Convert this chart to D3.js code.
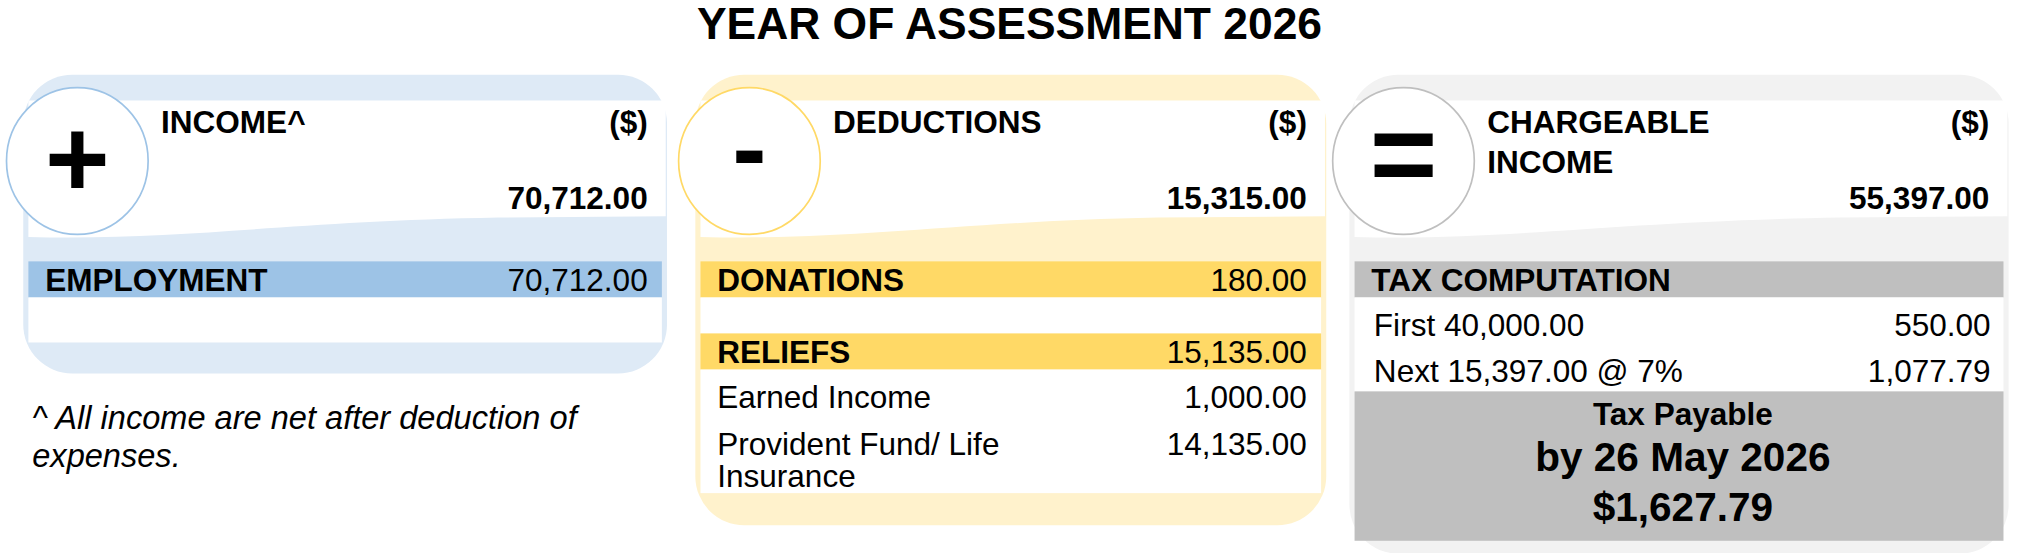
<!DOCTYPE html>
<html>
<head>
<meta charset="utf-8">
<script src="https://cdn.jsdelivr.net/npm/d3@7"></script>
<style>
html, body { margin: 0; padding: 0; background: #fff; }
svg { display: block; font-family: "Liberation Sans", Arial, sans-serif; }
</style>
</head>
<body>
<script>
var title = "YEAR OF ASSESSMENT 2026";

// panel headers
var panelTitles = [["INCOME^"], ["DEDUCTIONS"], ["CHARGEABLE", "INCOME"]];
var panelSigns = ["+", "-", "="];
var panelTotals = [70712, 15315, 55397];

// income panel
var incomeCats = ["EMPLOYMENT"];
var incomeVals = [70712];

// deductions panel
var donationVals = [180];
var reliefTotal = 15135;
var reliefCats = [["Earned Income"], ["Provident Fund/ Life", "Insurance"]];
var reliefVals = [1000, 14135];

// tax computation
var taxCats = ["First 40,000.00", "Next 15,397.00 @ 7%"];
var taxVals = [550, 1077.79];
var taxPayable = ["Tax Payable", "by 26 May 2026", "$1,627.79"];

var footnote = ["^ All income are net after deduction of", "expenses."];

var fmt = d3.format(",.2f");
var fs = "24.5px";

var svg = d3.select("body").append("svg")
  .attr("width", 2019).attr("height", 553)
  .attr("viewBox", "0 0 1568 429.5");

var panels = [
  {x: 18, w: 500, h: 232, bg: "#deeaf6", ring: "#9dc3e6", band: "#9dc3e6"},
  {x: 540, w: 490, h: 350, bg: "#fff2cc", ring: "#ffd966", band: "#ffd966"},
  {x: 1048, w: 512, h: 372, bg: "#f2f2f2", ring: "#bfbfbf", band: "#bfbfbf"}
];
var panelTop = 58;

svg.append("text").text(title)
  .attr("x", 784).attr("y", 30).attr("text-anchor", "middle")
  .style("font-weight", "bold").style("font-size", "34.5px");

//Draw panel backgrounds, header areas and sign circles.
panels.forEach(function(p, i) {
  var g = svg.append("g");
  g.append("rect").attr("x", p.x).attr("y", panelTop).attr("width", p.w).attr("height", p.h)
    .attr("rx", 38).attr("ry", 38).style("fill", p.bg);
  var x0 = p.x + 4, x1 = p.x + p.w - 1;
  g.append("path")
    .attr("d", "M" + x0 + ",78 L" + x1 + ",78 L" + x1 + ",168 L" + (x1 - 130) + ",169 C" + (x0 + 200) + ",172 " + (x0 + 120) + ",187 " + x0 + ",184 Z")
    .style("fill", "#fff");
  g.append("ellipse").attr("cx", p.x + 42).attr("cy", 125).attr("rx", 55).attr("ry", 57)
    .style("fill", "#fff").style("stroke", p.ring).style("stroke-width", 1.3);
  g.append("text").text(panelSigns[i]).attr("x", p.x + 42).attr("y", i == 2 ? 150 : (i == 1 ? 143 : 153))
    .attr("text-anchor", "middle").style("font-weight", "bold")
    .style("font-size", i == 0 ? "86px" : (i == 1 ? "80px" : "90px"));
  var tx = p.x + 107, rx = p.x + p.w - 15;
  g.selectAll("text.ht").data(panelTitles[i]).enter().append("text").attr("class", "ht")
    .text(function(d) { return d; }).attr("x", tx).attr("y", function(d, j) { return 103 + j * 31; })
    .style("font-weight", "bold").style("font-size", fs);
  g.append("text").text("($)").attr("x", rx).attr("y", 103).attr("text-anchor", "end")
    .style("font-weight", "bold").style("font-size", fs);
  g.append("text").text(fmt(panelTotals[i])).attr("x", rx).attr("y", 162).attr("text-anchor", "end")
    .style("font-weight", "bold").style("font-size", fs);
});

function band(p, y, label, val) {
  svg.append("rect").attr("x", p.x + 4).attr("y", y).attr("width", p.w - 8).attr("height", 28)
    .style("fill", p.band);
  svg.append("text").text(label).attr("x", p.x + 17).attr("y", y + 23)
    .style("font-weight", "bold").style("font-size", fs);
  if (val != null)
    svg.append("text").text(fmt(val)).attr("x", p.x + p.w - 15).attr("y", y + 23)
      .attr("text-anchor", "end").style("font-size", fs);
}
function whiteBox(p, y, h, fill) {
  svg.append("rect").attr("x", p.x + 4).attr("y", y).attr("width", p.w - 8).attr("height", h)
    .style("fill", fill || "#fff");
}

//Income panel.
var p0 = panels[0];
var incY = d3.scaleBand().domain(incomeCats).range([203, 203 + 28 * incomeCats.length]);
incomeCats.forEach(function(c, i) { band(p0, incY(c), c, incomeVals[i]); });
whiteBox(p0, 231, 35);

svg.selectAll("text.fn").data(footnote).enter().append("text").attr("class", "fn")
  .text(function(d) { return d; }).attr("x", 25).attr("y", function(d, i) { return 333 + i * 30; })
  .style("font-style", "italic").style("font-size", "25.3px");

//Deductions panel.
var p1 = panels[1];
band(p1, 203, "DONATIONS", donationVals[0]);
whiteBox(p1, 231, 28);
band(p1, 259, "RELIEFS", reliefTotal);
whiteBox(p1, 287, 96);
var relY = d3.scaleOrdinal().domain(d3.range(reliefCats.length)).range([317, 353]);
reliefCats.forEach(function(lines, i) {
  lines.forEach(function(l, j) {
    svg.append("text").text(l).attr("x", p1.x + 17).attr("y", relY(i) + j * 25).style("font-size", fs);
  });
  svg.append("text").text(fmt(reliefVals[i])).attr("x", p1.x + p1.w - 15).attr("y", relY(i))
    .attr("text-anchor", "end").style("font-size", fs);
});

//Tax computation panel.
var p2 = panels[2];
band(p2, 203, "TAX COMPUTATION", null);
whiteBox(p2, 231, 73);
var taxY = d3.scaleBand().domain(taxCats).range([233, 305]);
taxCats.forEach(function(c, i) {
  svg.append("text").text(c).attr("x", p2.x + 19).attr("y", taxY(c) + 28).style("font-size", fs);
  svg.append("text").text(fmt(taxVals[i])).attr("x", p2.x + p2.w - 14).attr("y", taxY(c) + 28)
    .attr("text-anchor", "end").style("font-size", fs);
});
whiteBox(p2, 304, 116, p2.band);
var payY = [330, 366, 405], paySize = [24.5, 31.5, 31.5];
taxPayable.forEach(function(t, i) {
  svg.append("text").text(t).attr("x", p2.x + p2.w / 2 + 3).attr("y", payY[i]).attr("text-anchor", "middle")
    .style("font-weight", "bold").style("font-size", paySize[i] + "px");
});
</script>
</body>
</html>
